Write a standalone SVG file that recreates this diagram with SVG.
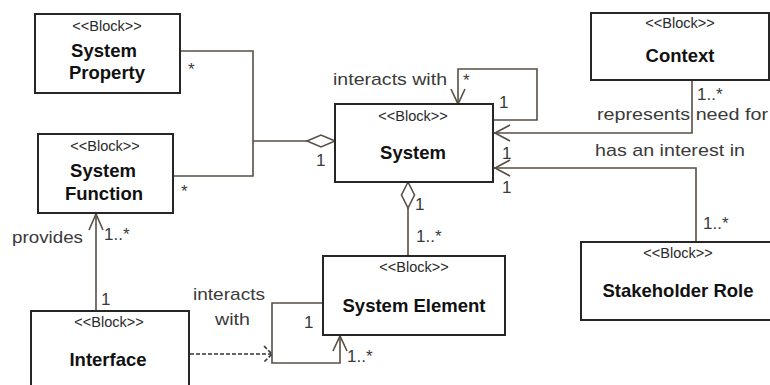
<svg xmlns="http://www.w3.org/2000/svg" width="770" height="385" viewBox="0 0 770 385">
<style>
.box{fill:#fff;stroke:#262626;stroke-width:2}
.st{font-family:"Liberation Sans",Arial,sans-serif;font-size:14.5px;fill:#2a2a2a;text-anchor:middle}
.nm{font-family:"Liberation Sans",Arial,sans-serif;font-size:18.5px;font-weight:bold;fill:#111;text-anchor:middle}
.lb{font-family:"Liberation Sans",Arial,sans-serif;font-size:17px;fill:#3a3a3a}
.ln{fill:none;stroke:#574f44;stroke-width:1.6}
.dash{fill:none;stroke:#333;stroke-width:1.6;stroke-dasharray:4,2}
.dia{fill:#fff;stroke:#574f44;stroke-width:1.6}
</style>
<rect width="770" height="385" fill="#fff"/>
<g id="connectors">
  <polyline class="ln" points="180,51 253,51 253,176 173,176"/>
  <line class="ln" x1="253" y1="141" x2="307" y2="141"/>
  <polygon class="dia" points="335,141 321,135 307,141 321,147"/>
  <polyline class="ln" points="458,104 458,69 537,69 537,120 493,120"/>
  <polyline class="ln" points="451,89 458,104 465,89"/>
  <polyline class="ln" points="692,80 692,133 494,133"/>
  <polyline class="ln" points="510,125 495,133 510,141"/>
  <polyline class="ln" points="696,242 696,168 494,168"/>
  <polyline class="ln" points="510,160 495,168 510,176"/>
  <line class="ln" x1="408" y1="208" x2="408" y2="256"/>
  <polygon class="dia" points="408,182 401.5,195 408,208 414.5,195"/>
  <line class="ln" x1="96" y1="311" x2="96" y2="214"/>
  <polyline class="ln" points="89,230 96,214 103,230"/>
  <polyline class="ln" points="323,303 272,303 272,363 340,363 340,336"/>
  <polyline class="ln" points="333,351 340,336 347,351"/>
  <line class="dash" x1="190" y1="354" x2="271" y2="354"/>
  <polyline class="dash" points="264,346 272,354 264,362"/>
</g>
<g id="system-property">
  <rect class="box" x="35" y="14" width="145" height="79"/>
  <text class="st" x="107" y="31">&lt;&lt;Block&gt;&gt;</text>
  <text class="nm" x="104" y="57">System</text>
  <text class="nm" x="107" y="79">Property</text>
</g>
<g id="system-function">
  <rect class="box" x="38" y="134" width="135" height="79"/>
  <text class="st" x="105" y="151">&lt;&lt;Block&gt;&gt;</text>
  <text class="nm" x="103" y="177">System</text>
  <text class="nm" x="104" y="200">Function</text>
</g>
<g id="system">
  <rect class="box" x="335" y="104" width="158" height="78"/>
  <text class="st" x="413" y="121">&lt;&lt;Block&gt;&gt;</text>
  <text class="nm" x="413" y="159">System</text>
</g>
<g id="context">
  <rect class="box" x="591" y="13" width="178" height="67"/>
  <text class="st" x="680" y="28">&lt;&lt;Block&gt;&gt;</text>
  <text class="nm" x="680" y="62">Context</text>
</g>
<g id="system-element">
  <rect class="box" x="323" y="256" width="182" height="79"/>
  <text class="st" x="414" y="272">&lt;&lt;Block&gt;&gt;</text>
  <text class="nm" x="414" y="312">System Element</text>
</g>
<g id="stakeholder-role">
  <rect class="box" x="581" y="242" width="200" height="78"/>
  <text class="st" x="678" y="258">&lt;&lt;Block&gt;&gt;</text>
  <text class="nm" x="678" y="297">Stakeholder  Role</text>
</g>
<g id="interface">
  <rect class="box" x="31" y="311" width="158" height="80"/>
  <text class="st" x="109" y="327">&lt;&lt;Block&gt;&gt;</text>
  <text class="nm" x="108" y="366">Interface</text>
</g>
<g id="labels">
  <text class="lb" x="188" y="75">*</text>
  <text class="lb" x="181" y="197">*</text>
  <text class="lb" x="316" y="166">1</text>
  <text class="lb" x="333" y="85" textLength="114" lengthAdjust="spacingAndGlyphs">interacts  with</text>
  <text class="lb" x="463" y="86">*</text>
  <text class="lb" x="499" y="108">1</text>
  <text class="lb" x="597" y="120" textLength="171" lengthAdjust="spacingAndGlyphs">represents  need for</text>
  <text class="lb" x="697" y="100">1..*</text>
  <text class="lb" x="595" y="156" textLength="150" lengthAdjust="spacingAndGlyphs">has  an interest in</text>
  <text class="lb" x="502" y="159">1</text>
  <text class="lb" x="502" y="193">1</text>
  <text class="lb" x="415" y="210">1</text>
  <text class="lb" x="416" y="242">1..*</text>
  <text class="lb" x="703" y="229">1..*</text>
  <text class="lb" x="104" y="240">1..*</text>
  <text class="lb" x="12" y="243" textLength="71" lengthAdjust="spacingAndGlyphs">provides</text>
  <text class="lb" x="101" y="305">1</text>
  <text class="lb" x="193" y="300" textLength="72" lengthAdjust="spacingAndGlyphs">interacts</text>
  <text class="lb" x="215" y="325" textLength="35" lengthAdjust="spacingAndGlyphs">with</text>
  <text class="lb" x="304" y="328">1</text>
  <text class="lb" x="347" y="362">1..*</text>
</g>
</svg>
